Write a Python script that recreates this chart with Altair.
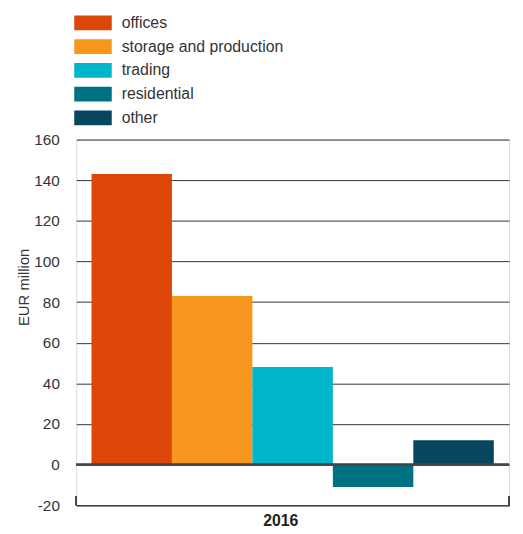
import altair as alt
import pandas as pd

years = ["2016"]
categories = ["offices", "storage and production", "trading", "residential", "other"]
values = [143, 83, 48, -11, 12]
colors = ["#DC4709", "#F7971D", "#00B6CB", "#007182", "#07465E"]
y_ticks = [-20, 0, 20, 40, 60, 80, 100, 120, 140, 160]

df = pd.DataFrame({
    "year": years * len(categories),
    "category": categories,
    "value": values,
})

FONT = "Liberation Sans"
W, H = 438, 370

bars = alt.Chart(df).mark_bar().encode(
    x=alt.X("year:N", title=None,
            scale=alt.Scale(paddingInner=0, paddingOuter=0),
            axis=alt.Axis(labelFontWeight="bold", labelFontSize=16, labelColor="#222",
                          labelFont=FONT, labelAngle=0, ticks=False, domain=True,
                          domainColor="#444", domainWidth=1.5, labelPadding=8,
                          labelOffset=-12)),
    xOffset=alt.XOffset("category:N", sort=categories,
                        scale=alt.Scale(paddingInner=0, paddingOuter=0.19)),
    y=alt.Y("value:Q", title="EUR million",
            scale=alt.Scale(domain=[-20, 160], nice=False, zero=False),
            axis=alt.Axis(values=y_ticks, grid=True, gridColor="#333", gridWidth=1,
                          ticks=False, domain=False, labelPadding=17, labelFontSize=15.5,
                          labelColor="#333", labelFont=FONT, titleFont=FONT,
                          labelExpr="'' + datum.value",
                          titleFontSize=15, titleFontWeight="normal", titleColor="#333",
                          titlePadding=2, titleY=149)),
    color=alt.Color("category:N", sort=categories,
                    scale=alt.Scale(domain=categories, range=colors),
                    legend=alt.Legend(title=None, orient="none", legendX=8.5, legendY=-126.5,
                                      symbolType="M-2.53,-1H2.53V1H-2.53Z", symbolSize=225,
                                      symbolOpacity=1, labelFontSize=16, labelFont=FONT,
                                      labelColor="#333", labelOffset=20.5, rowPadding=7,
                                      labelLimit=400, padding=0)),
)

zero = alt.Chart(df).mark_rule(color="#444", strokeWidth=1.5).encode(y=alt.datum(0))
left_end = alt.Chart(df).mark_rule(color="#444", strokeWidth=1.5).encode(
    x=alt.value(0), y=alt.datum(-20), y2=alt.datum(-15.6))
right_end = alt.Chart(df).mark_rule(color="#444", strokeWidth=1.5).encode(
    x=alt.value(W), y=alt.datum(-20), y2=alt.datum(-15.6))

chart = alt.layer(bars, zero, left_end, right_end).properties(
    width=W, height=H,
    padding={"left": 9, "top": 3, "right": 5, "bottom": 5},
).configure_view(stroke=None).configure(font=FONT)

chart.save("out.html", embed_options={"renderer": "svg", "actions": False})
